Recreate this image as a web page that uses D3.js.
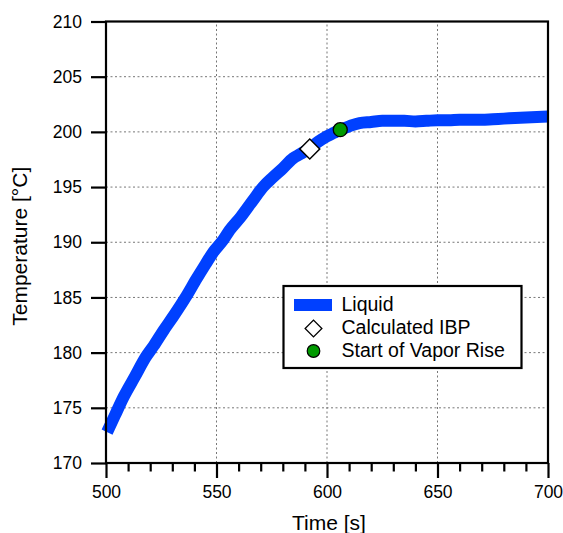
<!DOCTYPE html>
<head>
	<script src="https://d3js.org/d3.v7.min.js"></script>
	<style>
		body { margin: 0; background: #fff; }
		svg text { font-family: "Liberation Sans", Arial, sans-serif; fill: #000; }
		.tick_labels { font-size: 17.5px; }
		.axes_titles { font-size: 21px; }
		.legend_text { font-size: 19.5px; }
	</style>
</head>

<body>
	<script>
		// liquid temperature trace (time [s], temperature [C])
		var time = [500.5, 504, 508, 513, 518, 521.5, 526, 530.5, 536, 541, 545, 548.5, 553, 556, 561,
			566.5, 571, 575.6, 580, 584.6, 588, 592, 596, 600, 603, 606, 610, 614.7, 620, 625, 630,
			635, 640, 645, 650, 655, 660, 665, 670, 675, 680, 685, 690, 695, 700];
		var liquid = [172.8, 174.3, 176.0, 177.8, 179.6, 180.6, 182.0, 183.3, 185.0, 186.7, 188.0, 189.1, 190.2, 191.1, 192.3,
			193.8, 195.0, 195.9, 196.7, 197.6, 198.0, 198.5, 199.1, 199.6, 199.9, 200.2, 200.5, 200.8, 200.9, 201.0, 201.0,
			201.0, 200.95, 201.0, 201.05, 201.05, 201.1, 201.1, 201.1, 201.15, 201.2, 201.25, 201.3, 201.35, 201.4];

		// markers
		var ibp = [592.2, 198.45];
		var vaporRise = [606, 200.2];

		// ticks
		var xTicks = [500, 550, 600, 650, 700];
		var xMinorTicks = [510, 520, 530, 540, 560, 570, 580, 590, 610, 620, 630, 640, 660, 670, 680, 690];
		var yTicks = [170, 175, 180, 185, 190, 195, 200, 205, 210];

		var legendLabels = ["Liquid", "Calculated IBP", "Start of Vapor Rise"];

		var width = 563;
		var height = 533;
		var margin = { top: 21.5, right: 15, bottom: 70, left: 106 };

		var xScale = d3.scaleLinear()
			.domain([500, 700])
			.range([margin.left, width - margin.right]);
		var yScale = d3.scaleLinear()
			.domain([170, 210])
			.range([height - margin.bottom, margin.top]);

		var svg = d3.select("body")
			.append("svg")
			.attr("width", width)
			.attr("height", height);

		// grid
		svg.append("g")
			.selectAll("line")
			.data(xTicks.slice(1, -1))
			.enter()
			.append("line")
			.attr("x1", function(d) { return xScale(d) })
			.attr("x2", function(d) { return xScale(d) })
			.attr("y1", yScale(170))
			.attr("y2", yScale(210))
			.attr("stroke", "#777")
			.attr("stroke-dasharray", "2,2.5");
		svg.append("g")
			.selectAll("line")
			.data(yTicks.slice(1, -1))
			.enter()
			.append("line")
			.attr("x1", xScale(500))
			.attr("x2", xScale(700))
			.attr("y1", function(d) { return yScale(d) })
			.attr("y2", function(d) { return yScale(d) })
			.attr("stroke", "#777")
			.attr("stroke-dasharray", "2,2.5");

		// liquid line
		var line = d3.line()
			.x(function(d) { return xScale(d[0]) })
			.y(function(d) { return yScale(d[1]) })
			.curve(d3.curveMonotoneX);

		svg.append("path")
			.datum(time.map(function(t, i) { return [t, liquid[i]] }))
			.attr("d", line)
			.attr("fill", "none")
			.attr("stroke", "#0040ff")
			.attr("stroke-width", 12);

		// markers
		var diamond = d3.symbol().type(d3.symbolSquare).size(200);
		svg.append("path")
			.attr("d", diamond)
			.attr("transform", "translate(" + [xScale(ibp[0]), yScale(ibp[1])] + ") rotate(45)")
			.attr("fill", "#fff")
			.attr("stroke", "#000")
			.attr("stroke-width", 1.5);
		svg.append("circle")
			.attr("cx", xScale(vaporRise[0]))
			.attr("cy", yScale(vaporRise[1]))
			.attr("r", 7)
			.attr("fill", "#009a00")
			.attr("stroke", "#000")
			.attr("stroke-width", 1.3);

		// axes
		var xAxis = d3.axisBottom(xScale)
			.tickValues(xTicks)
			.tickSize(15)
			.tickPadding(8)
			.tickFormat(d3.format("d"));
		var xMinor = d3.axisBottom(xScale)
			.tickValues(xMinorTicks)
			.tickSize(8.5)
			.tickFormat("");
		var yAxis = d3.axisLeft(yScale)
			.tickValues(yTicks)
			.tickSize(15)
			.tickPadding(9)
			.tickFormat(d3.format("d"));

		svg.append("g")
			.attr("transform", "translate(" + [0, yScale(170)] + ")")
			.call(xMinor);
		svg.append("g")
			.attr("transform", "translate(" + [0, yScale(170)] + ")")
			.call(xAxis);
		svg.append("g")
			.attr("transform", "translate(" + [xScale(500), 0] + ")")
			.call(yAxis);

		svg.selectAll(".domain").remove();
		svg.selectAll(".tick line").attr("stroke", "#000").attr("stroke-width", 2.2);
		svg.selectAll(".tick text")
			.attr("class", "tick_labels")
			.attr("font-family", null)
			.attr("font-size", null);

		// frame
		svg.append("rect")
			.attr("x", xScale(500))
			.attr("y", yScale(210))
			.attr("width", xScale(700) - xScale(500))
			.attr("height", yScale(170) - yScale(210))
			.attr("fill", "none")
			.attr("stroke", "#000")
			.attr("stroke-width", 2.2);

		// axis titles
		svg.append("text")
			.text("Time [s]")
			.attr("class", "axes_titles")
			.attr("x", (xScale(500) + xScale(700)) / 2 + 2)
			.attr("y", 530)
			.attr("text-anchor", "middle");
		svg.append("text")
			.text("Temperature [°C]")
			.attr("class", "axes_titles")
			.attr("transform", "translate(" + [27, (yScale(170) + yScale(210)) / 2 + 4] + ") rotate(-90)")
			.attr("text-anchor", "middle");

		// legend
		var legend = svg.append("g")
			.attr("transform", "translate(" + [283.5, 286] + ")");
		legend.append("rect")
			.attr("width", 238)
			.attr("height", 82)
			.attr("fill", "#fff")
			.attr("stroke", "#000")
			.attr("stroke-width", 2.2);
		legend.append("rect")
			.attr("x", 10.5)
			.attr("y", 13)
			.attr("width", 38)
			.attr("height", 12)
			.attr("fill", "#0040ff");
		legend.append("path")
			.attr("d", d3.symbol().type(d3.symbolSquare).size(140))
			.attr("transform", "translate(" + [30, 42.5] + ") rotate(45)")
			.attr("fill", "#fff")
			.attr("stroke", "#000")
			.attr("stroke-width", 1.3);
		legend.append("circle")
			.attr("cx", 30)
			.attr("cy", 65)
			.attr("r", 6.3)
			.attr("fill", "#009a00")
			.attr("stroke", "#000")
			.attr("stroke-width", 1.2);
		legend.selectAll(".legend_text")
			.data(legendLabels)
			.enter()
			.append("text")
			.attr("class", "legend_text")
			.attr("x", 58)
			.attr("y", function(d, i) { return 24.7 + i * 23 })
			.text(function(d) { return d });
	</script>
</body>
</html>
